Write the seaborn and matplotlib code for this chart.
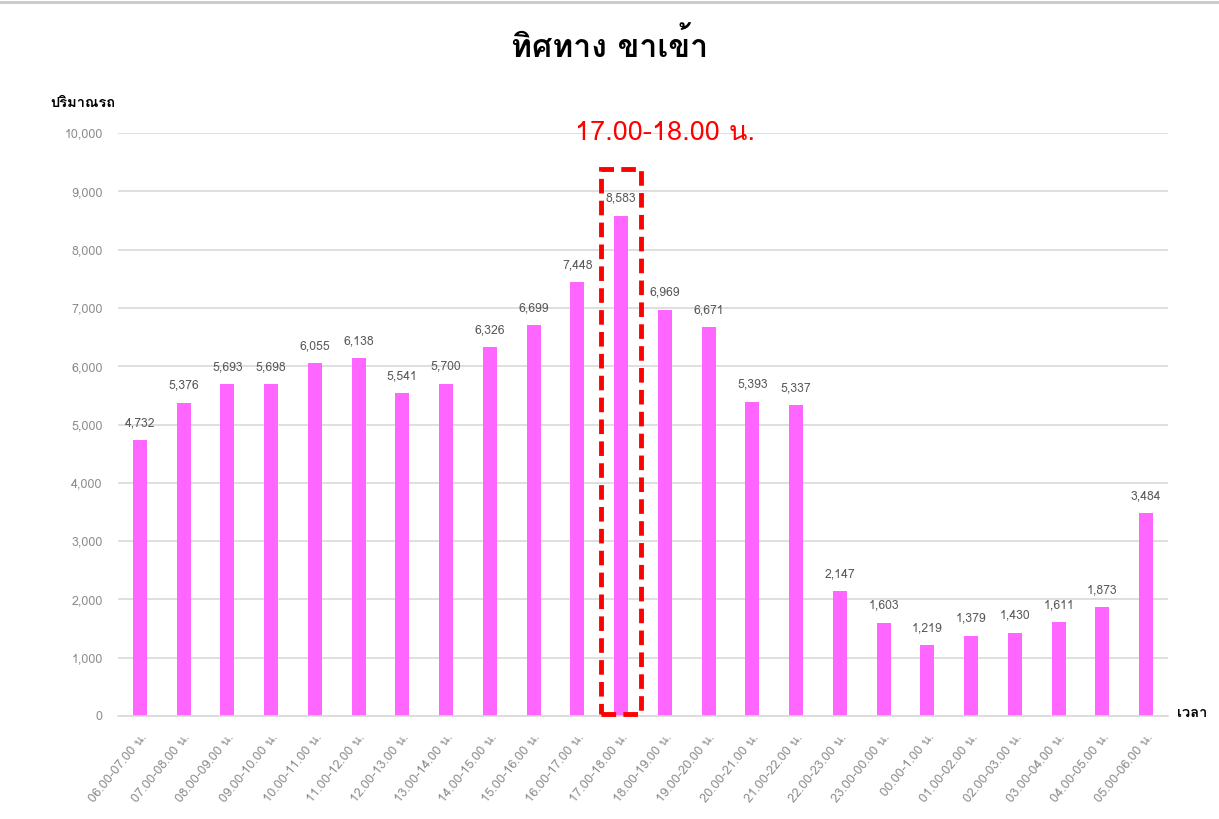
import matplotlib
matplotlib.use("Agg")
import matplotlib.pyplot as plt
from matplotlib import font_manager
from matplotlib.ft2font import FT2Font
from matplotlib.patches import Rectangle
import seaborn as sns
import pandas as pd

# Hourly inbound traffic volume
periods = [
    "06.00-07.00 น.", "07.00-08.00 น.", "08.00-09.00 น.", "09.00-10.00 น.",
    "10.00-11.00 น.", "11.00-12.00 น.", "12.00-13.00 น.", "13.00-14.00 น.",
    "14.00-15.00 น.", "15.00-16.00 น.", "16.00-17.00 น.", "17.00-18.00 น.",
    "18.00-19.00 น.", "19.00-20.00 น.", "20.00-21.00 น.", "21.00-22.00 น.",
    "22.00-23.00 น.", "23.00-00.00 น.", "00.00-1.00 น.", "01.00-02.00 น.",
    "02.00-03.00 น.", "03.00-04.00 น.", "04.00-05.00 น.", "05.00-06.00 น.",
]
volumes = [
    4732, 5376, 5693, 5698, 6055, 6138, 5541, 5700, 6326, 6699, 7448, 8583,
    6969, 6671, 5393, 5337, 2147, 1603, 1219, 1379, 1430, 1611, 1873, 3484,
]
peak_period = "17.00-18.00 น."
title_text = "ทิศทาง ขาเข้า"
y_label = "ปริมาณรถ"
x_label = "เวลา"
y_ticks = list(range(0, 10001, 1000))


def thai_family():
    """Return an installed family that has Thai glyphs, if any."""
    seen = set()
    for f in font_manager.fontManager.ttflist:
        if f.name in seen:
            continue
        seen.add(f.name)
        try:
            cmap = FT2Font(f.fname).get_charmap()
        except Exception:
            continue
        if 0x0E17 in cmap and 0x0E32 in cmap:
            return f.name
    return None


sns.set_theme(style="whitegrid")
thai = thai_family()
families = ([thai] if thai else []) + ["DejaVu Sans"]
plt.rcParams["font.family"] = families

df = pd.DataFrame({"period": periods, "volume": volumes})

fig = plt.figure(figsize=(12.19, 8.19), dpi=100)
ax = fig.add_axes([118 / 1219, 1 - 716 / 819, 1050 / 1219, 583 / 819])

sns.barplot(data=df, x="period", y="volume", color="#FF66FF", saturation=1,
            width=0.32, ax=ax, edgecolor="none")

ax.set_xlim(-0.5, len(periods) - 0.5)
ax.set_ylim(0, 10000)
ax.set_yticks(y_ticks)
ax.set_yticklabels([f"{v:,}" for v in y_ticks])
ax.grid(axis="y", color="#d9d9d9", linewidth=1.2)
ax.grid(axis="x", visible=False)
for side in ["top", "right", "left"]:
    ax.spines[side].set_visible(False)
ax.spines["bottom"].set_color("#d9d9d9")
ax.spines["bottom"].set_linewidth(1.2)
ax.tick_params(axis="y", length=0, pad=11, labelsize=9, labelcolor="#8c8c8c")
ax.tick_params(axis="x", length=0, pad=11, labelsize=9.2, labelcolor="#8c8c8c")
for lbl in ax.get_xticklabels():
    lbl.set_rotation(51)
    lbl.set_ha("right")
    lbl.set_rotation_mode("anchor")
ax.set_xlabel("")
ax.set_ylabel("")

ax.bar_label(ax.containers[0], labels=[f"{v:,}" for v in volumes],
             padding=8, fontsize=8.8, color="#595959")

# Highlight the peak hour
peak_idx = periods.index(peak_period)
ax.add_patch(Rectangle((peak_idx - 0.46, 40), 0.92, 9340, fill=False,
                       edgecolor="#FF0000", linewidth=3.5,
                       linestyle=(0, (3, 1.5)), zorder=5, clip_on=False))
ax.text(peak_idx + 1.0, 10000, peak_period, ha="center", va="center",
        fontsize=19.5, color="#FF0000", fontweight="medium")

fig.text(0.5, 1 - 46 / 819, title_text, ha="center", va="center",
         fontsize=23, fontweight="bold", color="black")
fig.text(50 / 1219, 1 - 103 / 819, y_label, ha="left", va="center",
         fontsize=10.5, color="black", fontweight="semibold")
fig.text(1177 / 1219, 1 - 713 / 819, x_label, ha="left", va="center",
         fontsize=10.5, color="black", fontweight="semibold")

# thin frame line along the top edge
fig.add_artist(plt.Line2D([0, 1], [0.998, 0.998], color="#c8c8c8",
                          linewidth=2, transform=fig.transFigure))

fig.savefig("out.png", dpi=100)
